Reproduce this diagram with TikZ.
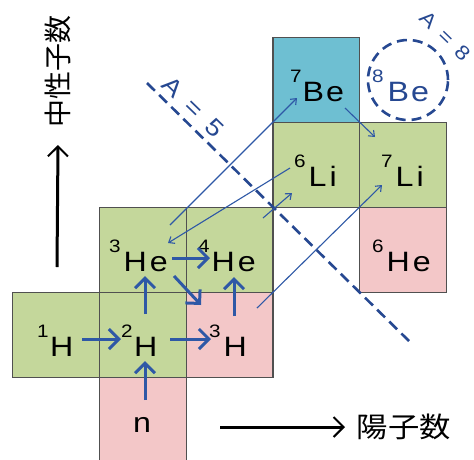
\documentclass[tikz,border=0pt]{standalone}
\usepackage{fontspec}
\setmainfont[FakeStretch=1.15]{Liberation Sans}
\newfontfamily\jpfont{Noto Sans CJK JP}
\newfontfamily\jpwide[FakeStretch=1.12]{Noto Sans CJK JP}
\usetikzlibrary{arrows.meta}
\definecolor{cgreen}{RGB}{196,215,155}
\definecolor{cpink}{RGB}{243,199,200}
\definecolor{cblue}{RGB}{110,191,210}
\definecolor{cborder}{RGB}{80,80,80}
\definecolor{carrow}{RGB}{46,88,166}
\definecolor{cdash}{RGB}{38,72,145}
\newcommand\nuc[3][1.5pt]{\raisebox{19pt}{\fontsize{18}{18}\selectfont #2}\kern#1#3}
\tikzset{
  cell/.style={draw=cborder, line width=1.2pt, minimum width=86.8pt, minimum height=85pt, inner sep=0pt, anchor=north west},
  lab/.style={inner sep=0pt, anchor=base west, font=\fontsize{28}{28}\selectfont},
  bigarrow/.style={draw=carrow, line width=3pt, -{Straight Barb[length=10pt,width=20pt]}},
  thinarrow/.style={draw=carrow, line width=1.1pt, -{Straight Barb[length=5pt,width=8pt]}},
  axisarrow/.style={draw=black, line width=3pt, -{Straight Barb[length=10pt,width=20pt,line width=2pt]}},
  dashline/.style={draw=cdash, line width=2.6pt, dash pattern=on 11pt off 6pt},
  alabel/.style={text=cdash, inner sep=0pt, font=\fontsize{24}{24}\selectfont}
}
\begin{document}
\begin{tikzpicture}[x=1pt,y=-1pt]
\clip (0,0) rectangle (474,459);
\fill[white] (0,0) rectangle (474,459);
% cells
\node[cell, fill=cgreen] (c1H) at (12,292) {};
\node[cell, fill=cgreen] (c2H) at (99,292) {};
\node[cell, fill=cpink] (c3H) at (185.6,292) {};
\node[cell, fill=cpink] (cn) at (99,377) {};
\node[cell, fill=cgreen] (c3He) at (99,207) {};
\node[cell, fill=cgreen] (c4He) at (185.6,207) {};
\node[cell, fill=cpink] (c6He) at (359,207) {};
\node[cell, fill=cgreen] (c6Li) at (272.4,122) {};
\node[cell, fill=cgreen] (c7Li) at (359,122) {};
\node[cell, fill=cblue] (c7Be) at (272.4,37) {};
% labels
\node[lab] (l1H) at (37,356) {\nuc{1}{H}};
\node[lab] (l2H) at (121,356) {\nuc{2}{H}};
\node[lab] (l3H) at (209,356) {\nuc[3pt]{3}{H}};
\node[lab, anchor=base] (ln) at (142,432) {n};
\node[lab] (l3He) at (109,271) {\nuc[3pt]{3}{H\kern3pt e}};
\node[lab] (l4He) at (198,271) {\nuc[2pt]{4}{H\kern3pt e}};
\node[lab] (l6He) at (372,271) {\nuc[3pt]{6}{H\kern3pt e}};
\node[lab] (l6Li) at (294,186) {\nuc[3pt]{6}{L\kern3pt i}};
\node[lab] (l7Li) at (381,186) {\nuc[3pt]{7}{L\kern3pt i}};
\node[lab] (l7Be) at (290,101) {\nuc[1pt]{7}{B\kern2pt e}};
\node[lab, text=cdash] (l8Be) at (372,101) {\nuc[4pt]{8}{B\kern2pt e}};
% A = 5 line and A = 8 circle
\coordinate (d5a) at (147,83);
\coordinate (d5b) at (409,341);
\draw[dashline] (d5a) -- (d5b);
\node[alabel, rotate=-44] (a5) at (193,107) {A\hspace{13pt}=\hspace{13pt}5};
\coordinate (c8Be) at (408,80);
\draw[cdash, line width=2.6pt, dash pattern=on 10pt off 6pt] (c8Be) circle[radius=40pt];
\node[alabel, rotate=-44, font=\fontsize{20}{20}\selectfont] (a8) at (445,36) {A\hspace{10pt}=\hspace{10pt}8};
% thick arrows
\coordinate (p1a) at (82,339);  \coordinate (p1b) at (121,339);
\coordinate (p2a) at (170,339); \coordinate (p2b) at (211,339);
\coordinate (p3a) at (145,400); \coordinate (p3b) at (145,361);
\coordinate (p4a) at (145,314); \coordinate (p4b) at (145,276);
\coordinate (p5a) at (172,258); \coordinate (p5b) at (210,258);
\coordinate (p6a) at (174,276); \coordinate (p6b) at (201,305);
\coordinate (p7a) at (234,316); \coordinate (p7b) at (234,277);
\draw[bigarrow] (p1a) -- (p1b);
\draw[bigarrow] (p2a) -- (p2b);
\draw[bigarrow] (p3a) -- (p3b);
\draw[bigarrow] (p4a) -- (p4b);
\draw[bigarrow] (p5a) -- (p5b);
\draw[bigarrow] (p6a) -- (p6b);
\draw[bigarrow] (p7a) -- (p7b);
% thin arrows
\coordinate (q1a) at (257,308); \coordinate (q1b) at (382,185);
\coordinate (q2a) at (263,218); \coordinate (q2b) at (292,193);
\coordinate (q3a) at (170,225); \coordinate (q3b) at (297,98);
\coordinate (q4a) at (290,168); \coordinate (q4b) at (168,243);
\coordinate (q5a) at (345,108); \coordinate (q5b) at (375,137);
\draw[thinarrow] (q1a) -- (q1b);
\draw[thinarrow] (q2a) -- (q2b);
\draw[thinarrow] (q3a) -- (q3b);
\draw[thinarrow] (q4a) -- (q4b);
\draw[thinarrow] (q5a) -- (q5b);
% axes
\node[rotate=90, inner sep=0pt, font=\jpfont\fontsize{28}{28}\selectfont] (ylab) at (58,71) {中性子数};
\node[inner sep=0pt, font=\jpwide\fontsize{28}{28}\selectfont] (xlab) at (404,427) {陽子数};
\coordinate (ya) at (57,267);
\coordinate (xa) at (220,427);
\coordinate (xb) at (345,427);
\draw[axisarrow] (ya) -- (ylab.west |- 0,145);
\draw[axisarrow] (xa) -- (xb);
\end{tikzpicture}
\end{document}
